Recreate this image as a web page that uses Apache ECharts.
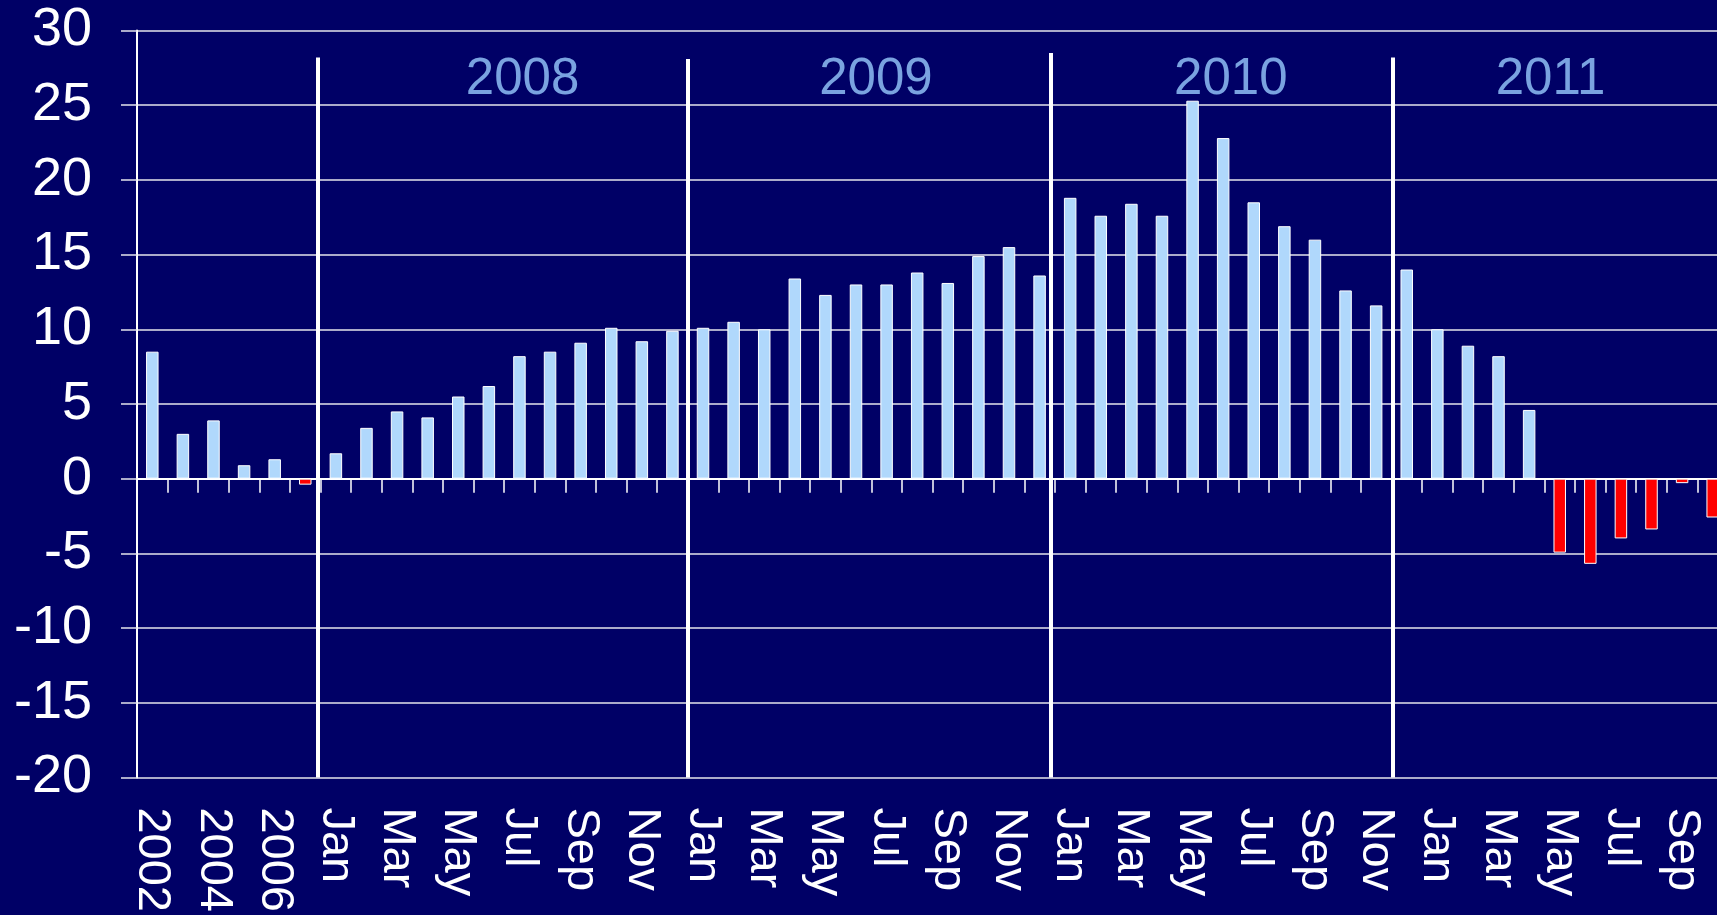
<!DOCTYPE html>
<html>
<head>
<meta charset="utf-8">
<script src="https://cdn.jsdelivr.net/npm/echarts@6/dist/echarts.min.js"></script>
<style>
html,body{margin:0;padding:0;background:#000066;overflow:hidden;}
#chart{width:1740px;height:915px;}
</style>
</head>
<body>
<div id="chart"></div>
<script>
// ---- data ----
const annualYears = ['2002', '2003', '2004', '2005', '2006', '2007'];
const months = ['Jan', 'Feb', 'Mar', 'Apr', 'May', 'Jun', 'Jul', 'Aug', 'Sep', 'Oct', 'Nov', 'Dec'];
const monthlyYears = ['2008', '2009', '2010', '2011'];
const monthsShown2011 = 10;

const annualValues = [8.5, 3.0, 3.9, 0.9, 1.3, -0.4];
const values2008 = [1.7, 3.4, 4.5, 4.1, 5.5, 6.2, 8.2, 8.5, 9.1, 10.1, 9.2, 9.9];
const values2009 = [10.1, 10.5, 10.0, 13.4, 12.3, 13.0, 13.0, 13.8, 13.1, 14.9, 15.5, 13.6];
const values2010 = [18.8, 17.6, 18.4, 17.6, 25.3, 22.8, 18.5, 16.9, 16.0, 12.6, 11.6, 14.0];
const values2011 = [10.0, 8.9, 8.2, 4.6, -4.95, -5.7, -4.0, -3.4, -0.3, -2.6];

const yMin = -20, yMax = 30, yStep = 5;

// year separator lines (in category-index units) and their top values
const separatorX = [5.9, 18.0, 29.86, 41.04];
const separatorTop = [28.2, 28.1, 28.5, 28.2];
// year caption anchors (category-index units, value units)
const yearCaptionX = [12.6, 24.15, 35.75, 46.2];
const yearCaptionY = 26.7;

// ---- build ----
const categories = annualYears.slice();
monthlyYears.forEach((y, i) => {
  const n = (i === monthlyYears.length - 1) ? monthsShown2011 : 12;
  for (let m = 0; m < n; m++) categories.push(months[m] + ' ' + y);
});
const values = annualValues.concat(values2008, values2009, values2010, values2011);

const FONT = '"Liberation Sans", Arial, Helvetica, sans-serif';
const GRID_COLOR = '#E4E4EC';

const chart = echarts.init(document.getElementById('chart'));
chart.setOption({
  backgroundColor: '#000066',
  animation: false,
  grid: { left: 137, top: 30.5, width: 1591, height: 747.5, containLabel: false },
  xAxis: [
    {
      type: 'category', data: categories, position: 'bottom', boundaryGap: true,
      axisLine: { show: true, onZero: true, lineStyle: { color: '#ffffff', width: 2 } },
      axisTick: { show: true, interval: 0, length: 14, inside: false, lineStyle: { color: '#ffffff', width: 1.5 } },
      axisLabel: { show: false },
      splitLine: { show: false }
    },
    {
      type: 'category', data: categories, position: 'bottom', boundaryGap: true,
      axisLine: { show: false, onZero: false },
      axisTick: { show: false },
      splitLine: { show: false },
      axisLabel: {
        show: true, interval: 1, rotate: -90, margin: 30,
        color: '#ffffff', fontSize: 47, fontFamily: FONT,
        formatter: v => v.split(' ')[0]
      }
    },
    { type: 'value', min: 0, max: categories.length, show: false, position: 'top' }
  ],
  yAxis: {
    type: 'value', min: yMin, max: yMax, interval: yStep,
    axisLine: { show: true, onZero: false, lineStyle: { color: '#ffffff', width: 2 } },
    axisTick: { show: true, length: 16, inside: false, lineStyle: { color: GRID_COLOR, width: 1.5 } },
    splitLine: { show: true, lineStyle: { color: GRID_COLOR, width: 1.5 } },
    axisLabel: { color: '#ffffff', fontSize: 54, fontFamily: FONT, margin: 45 }
  },
  series: [
    {
      type: 'bar', xAxisIndex: 0, yAxisIndex: 0,
      data: values,
      barWidth: 12.5,
      itemStyle: {
        color: p => (p.value < 0 ? '#FF0000' : '#B0D8FC'),
        borderColor: '#ffffff', borderWidth: 1
      }
    },
    {
      type: 'scatter', xAxisIndex: 2, yAxisIndex: 0,
      symbolSize: 1,
      itemStyle: { color: 'rgba(0,0,0,0)' },
      data: yearCaptionX.map((x, i) => ({ name: monthlyYears[i], value: [x, yearCaptionY] })),
      label: {
        show: true, position: 'inside', formatter: '{b}',
        color: '#99CCFF', fontSize: 51, fontFamily: FONT
      },
      markLine: {
        silent: true, symbol: ['none', 'none'],
        label: { show: false },
        lineStyle: { color: '#ffffff', width: 4, type: 'solid' },
        data: separatorX.map((x, i) => [{ coord: [x, yMin] }, { coord: [x, separatorTop[i]] }])
      }
    }
  ]
});
</script>
</body>
</html>
